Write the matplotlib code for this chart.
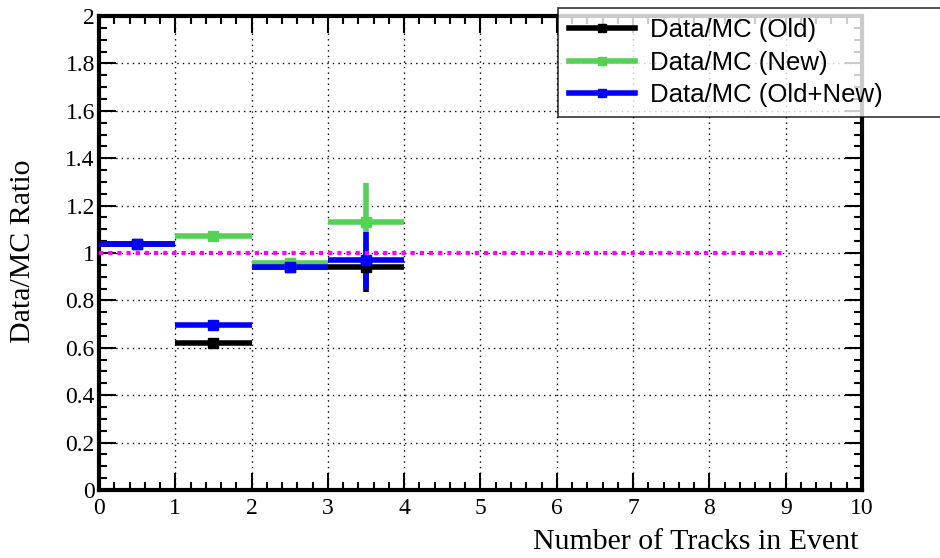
import matplotlib
matplotlib.use("Agg")
import matplotlib.pyplot as plt
from matplotlib.ticker import MultipleLocator, FuncFormatter
from matplotlib.lines import Line2D

# bin edges
bin_lo = [0, 1, 2, 3]
bin_hi = [1, 2, 3, 4]

# Data/MC ratios per bin
old_val = [1.04, 0.62, 0.94, 0.94]
old_err = [0.005, 0.01, 0.01, 0.105]
new_val = [None, 1.07, 0.958, 1.13]
new_err = [None, 0.01, 0.01, 0.165]
comb_val = [1.04, 0.695, 0.942, 0.97]
comb_err = [0.01, 0.01, 0.01, 0.12]

series = [
    ("Data/MC (Old)", old_val, old_err, "black"),
    ("Data/MC (New)", new_val, new_err, "#55d155"),
    ("Data/MC (Old+New)", comb_val, comb_err, "blue"),
]

fig = plt.figure(figsize=(9.4, 5.58), dpi=100)
ax = fig.add_axes([0.1053, 0.1219, 0.8117, 0.8494])

handles = []
for label, vals, errs, col in series:
    xs, ys, xe, ye = [], [], [], []
    for lo, hi, v, e in zip(bin_lo, bin_hi, vals, errs):
        if v is None:
            continue
        xs.append((lo + hi) / 2)
        xe.append((hi - lo) / 2)
        ys.append(v)
        ye.append(e)
    ax.errorbar(xs, ys, xerr=xe, yerr=ye, fmt="s", color=col, ms=7,
                elinewidth=4, capsize=0, zorder=3)
    handles.append(Line2D([], [], color=col, lw=4, marker="s", ms=6, label=label))

# reference line at 1
ax.plot([0, 9], [1, 1], color="#ff00ff", ls=(0, (1, 1.2)), lw=3, zorder=4)

ax.set_xlim(0, 10)
ax.set_ylim(0, 2)
ax.xaxis.set_major_locator(MultipleLocator(1))
ax.xaxis.set_minor_locator(MultipleLocator(0.2))
ax.yaxis.set_major_locator(MultipleLocator(0.2))
ax.yaxis.set_minor_locator(MultipleLocator(0.05))
ax.yaxis.set_major_formatter(FuncFormatter(lambda v, p: "%g" % round(v, 2)))
ax.tick_params(which="both", direction="in", top=True, right=True, width=1.5)
ax.tick_params(which="major", length=12)
ax.tick_params(which="minor", length=6)
ax.grid(True, which="major", color="black", ls=(0, (1, 3)), lw=1)
for s in ax.spines.values():
    s.set_linewidth(3)

for t in ax.get_xticklabels() + ax.get_yticklabels():
    t.set_fontfamily("Liberation Serif")
    t.set_fontsize(17)
ax.tick_params(axis="x", pad=6)
ax.tick_params(axis="y", pad=3)

fig.text(0.024, 0.55, "Data/MC Ratio", rotation=90, ha="center", va="center",
         fontsize=21.5, fontfamily="Liberation Serif")
fig.text(0.913, 0.005, "Number of Tracks in Event", ha="right", va="bottom",
         fontsize=21.5, fontfamily="Liberation Serif")

leg = fig.legend(handles=handles, loc="upper left",
                 bbox_to_anchor=(0.594, 0.79, 0.42, 0.196), mode="expand",
                 prop={"family": "Liberation Sans", "size": 18.5}, frameon=True,
                 fancybox=False, edgecolor="black", borderpad=0.4,
                 handlelength=2.6, handletextpad=0.55, labelspacing=0.33,
                 borderaxespad=0)
leg.get_frame().set_linewidth(1.2)

fig.savefig("out.png", dpi=100)
